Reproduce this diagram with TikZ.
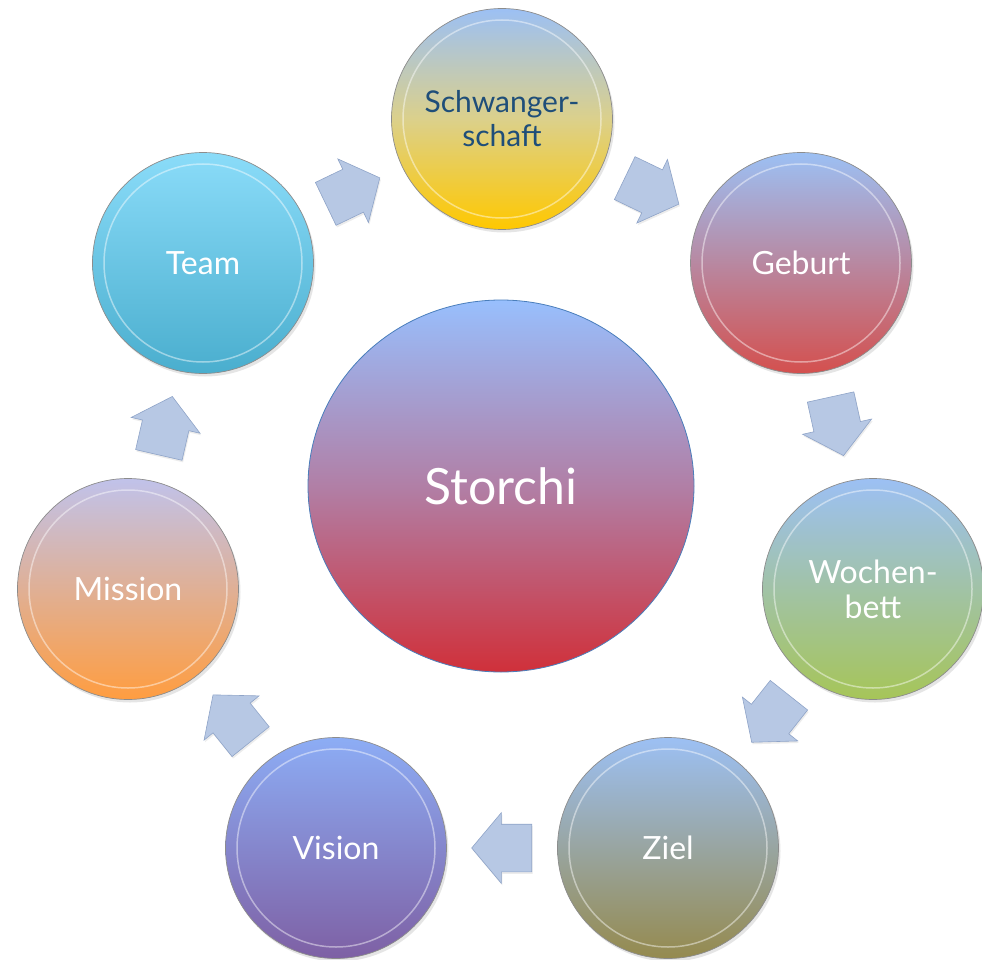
\documentclass[tikz,border=0pt]{standalone}
\usepackage{fontspec}
\setmainfont{Lato}
\usetikzlibrary{shapes.geometric,shapes.arrows,shadows,calc}

\definecolor{topblue}{HTML}{9CC0F4}
\definecolor{arrowfill}{HTML}{B7C8E4}
\definecolor{arrowedge}{HTML}{8FA4C8}
\definecolor{sunyellow}{HTML}{FFC800}
\definecolor{birthred}{HTML}{D4504E}
\definecolor{bedgreen}{HTML}{A6C558}
\definecolor{goalolive}{HTML}{958A4E}
\definecolor{visionpurple}{HTML}{7E60A4}
\definecolor{missionorange}{HTML}{FF9D40}
\definecolor{teamcyan}{HTML}{4AAECE}
\definecolor{storchitop}{HTML}{98BFFD}
\definecolor{storchimid}{HTML}{B17FA6}
\definecolor{storchibot}{HTML}{D0303A}
\definecolor{storchiedge}{HTML}{4A7EBB}
\definecolor{darkblue}{HTML}{1F4E79}

\begin{document}
\begin{tikzpicture}
[x=1pt, y=-1pt,
bubble/.style={circle, draw=black!45, line width=0.7pt, inner sep=0pt, minimum size=221pt,
  align=center, text=white, font=\fontsize{32}{35}\selectfont,
  drop shadow={opacity=0.2, shadow xshift=2pt, shadow yshift=-3pt},
  path picture={\draw[white, opacity=0.45, line width=1.5pt] (path picture bounding box.center) circle (99pt);}},
blockarrow/.style={single arrow, draw=arrowedge, fill=arrowfill, line width=0.6pt, inner xsep=0pt, inner ysep=23.5pt,
  minimum height=60pt, minimum width=70pt, single arrow head extend=11.5pt, single arrow tip angle=100,
  anchor=tail, drop shadow={opacity=0.15, shadow xshift=1pt, shadow yshift=-2pt}}]

\useasboundingbox[fill=white] (0,0) rectangle (982,960);

\node[ellipse, draw=storchiedge, line width=0.8pt, minimum width=386pt, minimum height=372pt, inner sep=0pt,
  top color=storchitop, bottom color=storchibot, middle color=storchimid,
  text=white, font=\fontsize{50}{54}\selectfont] (storchi) at (501,486) {Storchi};

\node[bubble, top color=topblue, bottom color=sunyellow, middle color=sunyellow!55!topblue!80!white,
  text=darkblue, font=\fontsize{30}{34}\selectfont] (schwanger) at (502,119) {Schwanger-\\schaft};
\node[bubble, top color=topblue, bottom color=birthred] (geburt) at (801,263) {Geburt};
\node[bubble, top color=topblue, bottom color=bedgreen] (wochenbett) at (873,589) {Wochen-\\bett};
\node[bubble, top color=topblue, bottom color=goalolive] (ziel) at (668,848) {Ziel};
\node[bubble, top color=topblue!90!blue, bottom color=visionpurple] (vision) at (336,848) {Vision};
\node[bubble, top color=topblue!80!violet!60!white, bottom color=missionorange] (mission) at (128,589) {Mission};
\node[bubble, top color=topblue!70!cyan!80!white, bottom color=teamcyan] (team) at (203,263) {Team};

\foreach \a/\b [count=\i] in {team/schwanger, schwanger/geburt, geburt/wochenbett, wochenbett/ziel,
  ziel/vision, vision/mission, mission/team} {
  \path let \p1=($(\b)-(\a)$), \n1={atan2(\y1,\x1)}, \p2=($(\a)!0.5!(\b)$) in
    node[blockarrow, rotate=\n1] (arrow\i) at ($(\p2)!30pt!(\a)$) {};
}
\end{tikzpicture}
\end{document}
